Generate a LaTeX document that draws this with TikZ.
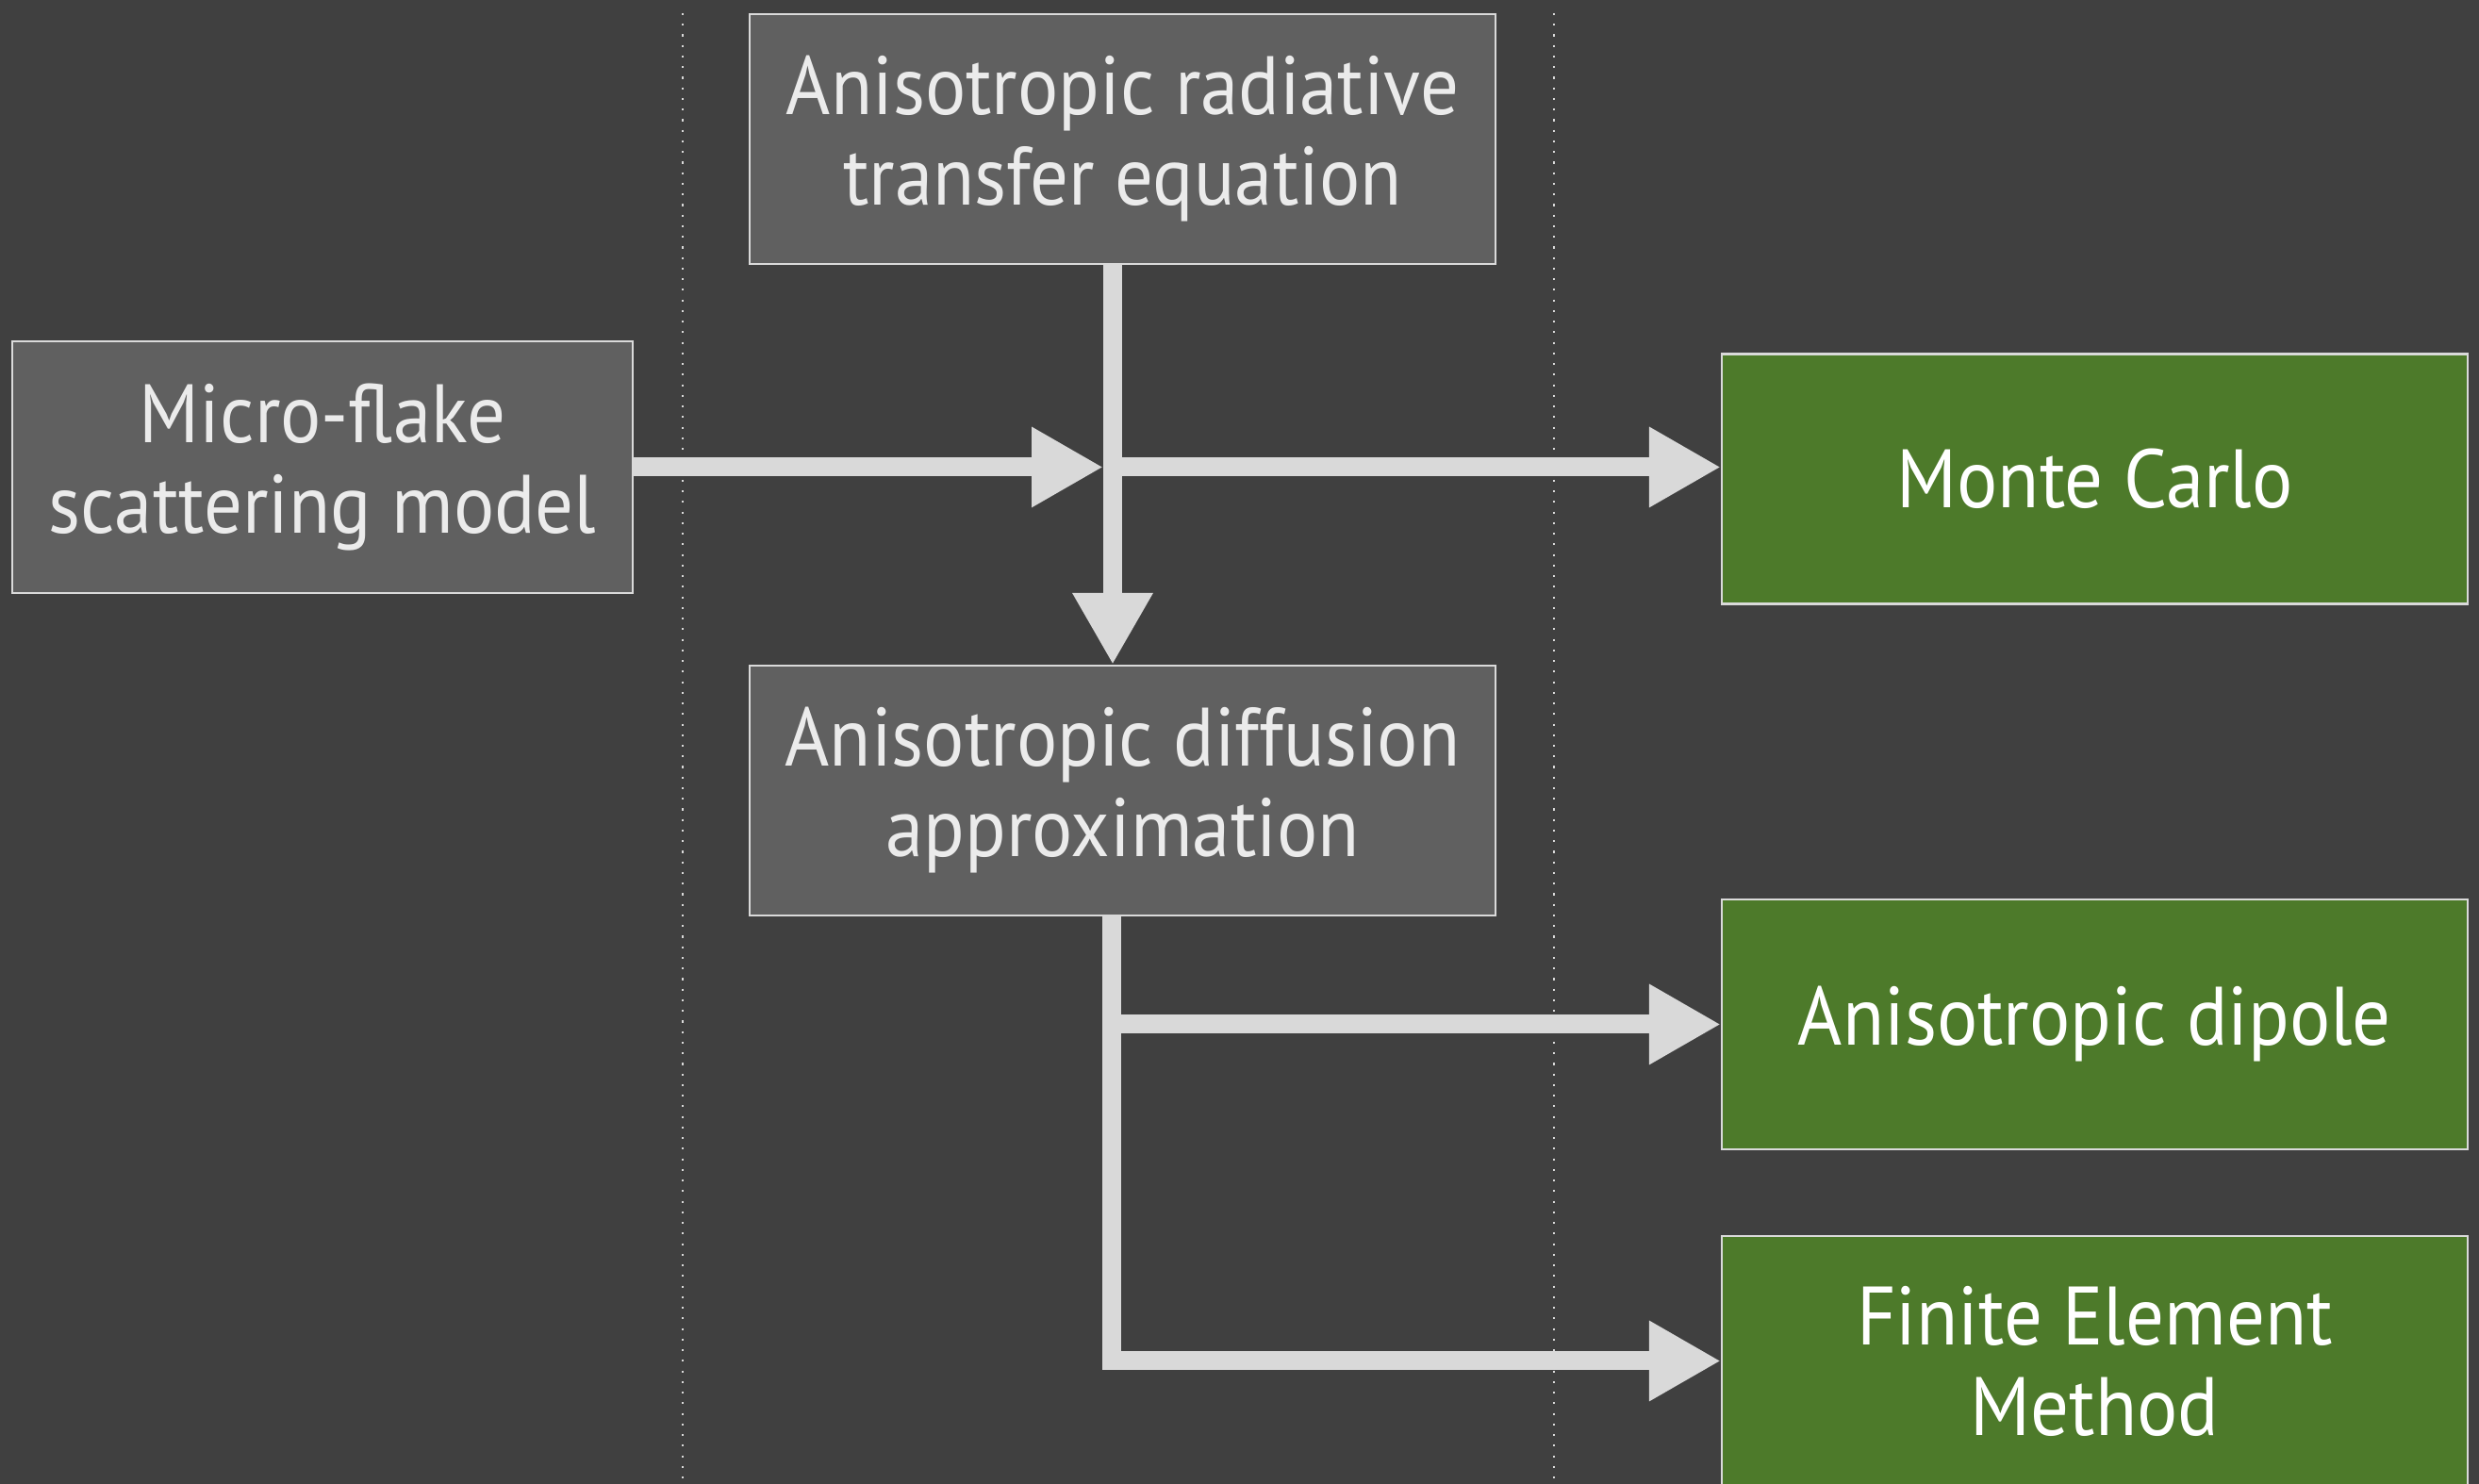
\documentclass[tikz,border=0pt]{standalone}
\usepackage{fontspec}
\setmainfont{PT Sans}[FakeStretch=0.92]
\usetikzlibrary{arrows.meta}

\definecolor{bgdark}{HTML}{404040}
\definecolor{boxgray}{HTML}{606060}
\definecolor{boxgreen}{HTML}{4D7A2A}
\definecolor{edgegray}{HTML}{DADADA}
\definecolor{flowgray}{HTML}{D9D9D9}
\definecolor{textgray}{HTML}{EBEBEB}

\begin{document}
\begin{tikzpicture}[
    every node/.style={font=\fontsize{25}{27.3}\selectfont, align=center},
    graybox/.style={draw=edgegray, line width=0.6pt, fill=boxgray, text=textgray,
        minimum width=7.91cm, minimum height=2.65cm},
    greenbox/.style={graybox, fill=boxgreen, text=white},
    flow/.style={draw=flowgray, line width=0.2cm},
    flowarrow/.style={flow, -{Triangle[length=0.76cm, width=0.8cm]}},
    divider/.style={draw=edgegray, line width=0.6pt, dash pattern=on 0.6pt off 2.6pt}
]
    \fill[bgdark] (0,0) rectangle (26.29,15.74);
    \useasboundingbox (0,0) rectangle (26.29,15.74);

    \foreach \x in {7.24, 16.48} {
        \draw[divider] (\x, 15.6) -- (\x, 0);
    }

    % left column
    \node[graybox, minimum width=6.58cm, minimum height=2.67cm] (flake) at (3.42, 10.785)
        {Micro-flake\\scattering model};

    % middle column
    \node[graybox] (rte) at (11.905, 14.265) {Anisotropic radiative\\transfer equation};
    \node[graybox] (diffusion) at (11.905, 7.355) {Anisotropic diffusion\\approximation};

    % right column
    \node[greenbox] (montecarlo) at (22.215, 10.66) {Monte Carlo};
    \node[greenbox] (dipole) at (22.215, 4.875) {Anisotropic dipole};
    \node[greenbox] (fem) at (22.215, 1.305) {Finite Element\\Method};

    \coordinate (cross) at (11.8, 10.785);
    \coordinate (split) at (11.79, 4.8);

    \draw[flowarrow] (rte.south -| cross) -- (diffusion.north -| cross);
    \draw[flowarrow] (flake.east) -- ([xshift=-0.1cm]cross);
    \draw[flowarrow] (cross) -- (cross -| montecarlo.west);

    \draw[flowarrow] (diffusion.south -| split) |- (dipole.west);
    \draw[flowarrow] (diffusion.south -| split) |- (fem.west);
\end{tikzpicture}
\end{document}
